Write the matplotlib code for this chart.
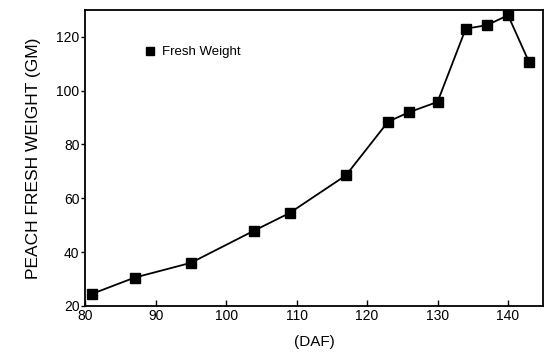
import matplotlib
matplotlib.use("Agg")
import matplotlib.pyplot as plt

# days after flowering and fresh weight (g)
daf = [81, 87, 95, 104, 109, 117, 123, 126, 130, 134, 137, 140, 143]
fresh_weight = [24.5, 30.5, 36.0, 48.0, 54.5, 68.5, 88.5, 92.0, 95.8, 123.0, 124.3, 128.0, 110.5]

x_ticks = [80, 90, 100, 110, 120, 130, 140]
y_ticks = [20, 40, 60, 80, 100, 120]

plt.rcParams["font.family"] = ["Liberation Sans", "DejaVu Sans"]

fig = plt.figure(figsize=(5.46, 3.52), dpi=100)
ax = fig.add_axes([0.156, 0.131, 0.839, 0.841])

ax.plot(daf, fresh_weight, color="black", linewidth=1.3, zorder=2)
ax.plot(daf, fresh_weight, linestyle="none", marker="s", markersize=6.5,
        color="black", label="Fresh Weight", zorder=3)

ax.set_xlim(80, 145)
ax.set_ylim(20, 130)
ax.set_xticks(x_ticks)
ax.set_yticks(y_ticks)
ax.tick_params(axis="x", direction="in", length=4, width=1, labelsize=10, pad=2)
ax.tick_params(axis="y", direction="out", length=3, width=1, labelsize=10, pad=1)

for s in ax.spines.values():
    s.set_linewidth(1.3)

ax.set_xlabel("(DAF)", fontsize=11, labelpad=9)
ax.set_ylabel("PEACH FRESH WEIGHT (GM)", fontsize=12.5, labelpad=11)

ax.legend(loc="upper left", bbox_to_anchor=(0.115, 0.895), frameon=False,
          fontsize=9.5, handletextpad=0.4, markerscale=0.85,
          borderaxespad=0, handlelength=1.0)

fig.savefig("out.png", dpi=100)
